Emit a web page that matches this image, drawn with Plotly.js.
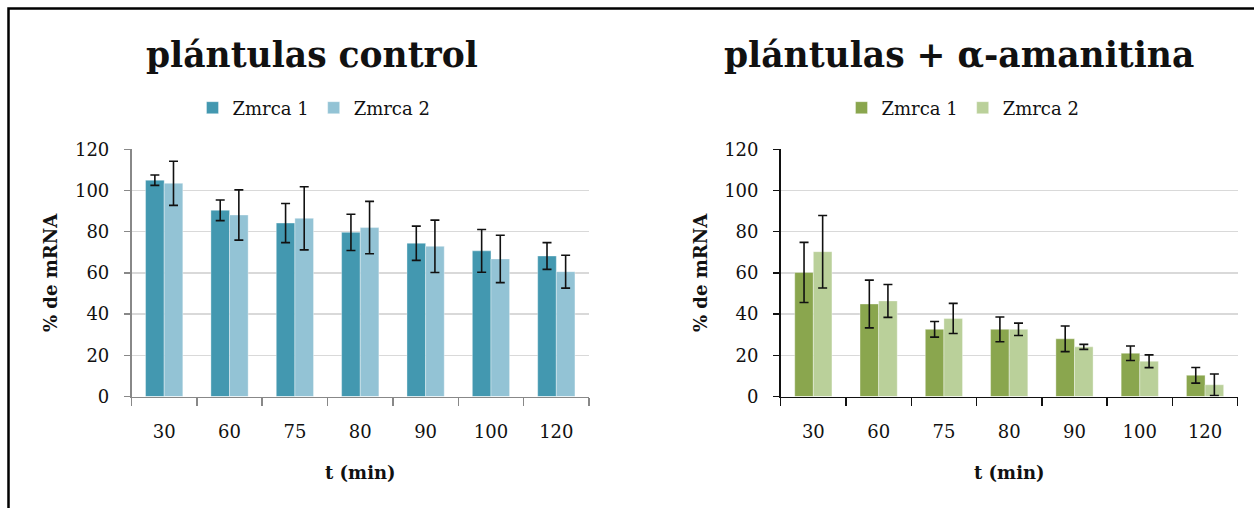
<!DOCTYPE html>
<html>
<head>
<meta charset="utf-8">
<script src="https://cdn.plot.ly/plotly-3.0.1.min.js"></script>
<style>html,body{margin:0;padding:0;background:#fff;}#chart{width:1254px;height:508px;}</style>
</head>
<body>
<div id="chart"></div>
<script>
// ---- data ----
const categories = ['30', '60', '75', '80', '90', '100', '120'];
const seriesNames = ['Zmrca 1', 'Zmrca 2'];

const controlZ1 = [105, 90.4, 84.2, 79.7, 74.4, 70.7, 68.2];
const controlZ1Err = [2.5, 5, 9.5, 8.8, 8.3, 10.4, 6.5];
const controlZ2 = [103.5, 88.1, 86.5, 82, 72.9, 66.8, 60.6];
const controlZ2Err = [10.7, 12.2, 15.3, 12.7, 12.7, 11.5, 8];

const amaZ1 = [60.2, 44.9, 32.6, 32.6, 28, 21, 10.3];
const amaZ1Err = [14.6, 11.6, 3.8, 6, 6.2, 3.5, 3.8];
const amaZ2 = [70.3, 46.4, 37.9, 32.6, 24.1, 17.1, 5.7];
const amaZ2Err = [17.6, 8, 7.3, 3, 1.2, 3.1, 5.2];

const titles = ['plántulas control', 'plántulas + α-amanitina'];
const yTitle = '% de mRNA';
const xTitle = 't (min)';

// ---- styling ----
const W = 1254, H = 508;
const FONT = 'DejaVu Serif';
const px = v => v / W;
const py = v => 1 - v / H;

function barTrace(y, err, name, color, xa, ya, legend) {
  return {
    type: 'bar', x: categories, y: y, name: name,
    xaxis: xa, yaxis: ya, legend: legend,
    marker: {color: color, line: {color: 'rgba(255,255,255,0.6)', width: 0.6}},
    error_y: {type: 'data', array: err, visible: true, color: '#111', thickness: 1.6, width: 4.5},
    hoverinfo: 'x+y'
  };
}

const data = [
  barTrace(controlZ1, controlZ1Err, seriesNames[0], '#4398b0', 'x', 'y', 'legend'),
  barTrace(controlZ2, controlZ2Err, seriesNames[1], '#93c3d5', 'x', 'y', 'legend'),
  barTrace(amaZ1, amaZ1Err, seriesNames[0], '#8aa64e', 'x2', 'y2', 'legend2'),
  barTrace(amaZ2, amaZ2Err, seriesNames[1], '#bad09a', 'x2', 'y2', 'legend2')
];

function xAxis(domain, lineColor, anchor) {
  return {
    domain: domain, anchor: anchor, type: 'category',
    showline: true, linecolor: lineColor, linewidth: 1.6,
    ticks: 'outside', tickson: 'boundaries', ticklen: 8, tickwidth: 1.5, tickcolor: lineColor,
    ticklabelstandoff: 18,
    tickfont: {family: FONT, size: 18, color: '#111'},
    showgrid: false, zeroline: false, fixedrange: true
  };
}
function yAxis(domain, lineColor, anchor) {
  return {
    domain: domain, anchor: anchor, range: [0, 120], dtick: 20,
    showline: true, linecolor: lineColor, linewidth: 1.6,
    ticks: 'outside', ticklen: 6, tickwidth: 1.5, tickcolor: lineColor,
    ticklabelstandoff: 11,
    tickfont: {family: FONT, size: 18, color: '#111'},
    showgrid: true, gridcolor: '#d9d9d9', gridwidth: 1.5,
    zeroline: false, fixedrange: true
  };
}

const yDom = [py(396.5), py(149.3)];

const layout = {
  width: W, height: H,
  margin: {l: 0, r: 0, t: 0, b: 0},
  paper_bgcolor: '#fff', plot_bgcolor: '#fff',
  barmode: 'group', bargap: 0.43, bargroupgap: 0,
  showlegend: true,
  xaxis: xAxis([px(131.5), px(589)], '#888888', 'y'),
  yaxis: yAxis(yDom, '#888888', 'x'),
  xaxis2: xAxis([px(780.7), px(1237.7)], '#111111', 'y2'),
  yaxis2: yAxis(yDom, '#111111', 'x2'),
  legend: {
    orientation: 'h', x: px(314), y: py(108), xanchor: 'center', yanchor: 'middle',
    font: {family: FONT, size: 18, color: '#111'}, bgcolor: 'rgba(0,0,0,0)', itemclick: false
  },
  legend2: {
    orientation: 'h', x: px(963), y: py(108), xanchor: 'center', yanchor: 'middle',
    font: {family: FONT, size: 18, color: '#111'}, bgcolor: 'rgba(0,0,0,0)', itemclick: false
  },
  annotations: [
    {text: '<b>' + titles[0] + '</b>', xref: 'paper', yref: 'paper', x: px(312), y: py(55),
     xanchor: 'center', yanchor: 'middle', showarrow: false, font: {family: FONT, size: 34.5, color: '#111'}},
    {text: '<b>' + titles[1] + '</b>', xref: 'paper', yref: 'paper', x: px(958.5), y: py(55),
     xanchor: 'center', yanchor: 'middle', showarrow: false, font: {family: FONT, size: 34.5, color: '#111'}},
    {text: '<b>' + yTitle + '</b>', xref: 'paper', yref: 'paper', x: px(50), y: py(273),
     xanchor: 'center', yanchor: 'middle', textangle: -90, showarrow: false, font: {family: FONT, size: 18, color: '#111'}},
    {text: '<b>' + yTitle + '</b>', xref: 'paper', yref: 'paper', x: px(700), y: py(273),
     xanchor: 'center', yanchor: 'middle', textangle: -90, showarrow: false, font: {family: FONT, size: 18, color: '#111'}},
    {text: '<b>' + xTitle + '</b>', xref: 'paper', yref: 'paper', x: px(360), y: py(472),
     xanchor: 'center', yanchor: 'middle', showarrow: false, font: {family: FONT, size: 18, color: '#111'}},
    {text: '<b>' + xTitle + '</b>', xref: 'paper', yref: 'paper', x: px(1009), y: py(472),
     xanchor: 'center', yanchor: 'middle', showarrow: false, font: {family: FONT, size: 18, color: '#111'}}
  ],
  shapes: [
    {type: 'path', xref: 'paper', yref: 'paper',
     path: 'M ' + px(8.5) + ' ' + py(510) + ' L ' + px(8.5) + ' ' + py(8.5) + ' L ' + px(1256) + ' ' + py(8.5),
     line: {color: '#000', width: 2.5}}
  ]
};

Plotly.newPlot('chart', data, layout, {displayModeBar: false, staticPlot: true});
</script>
</body>
</html>
